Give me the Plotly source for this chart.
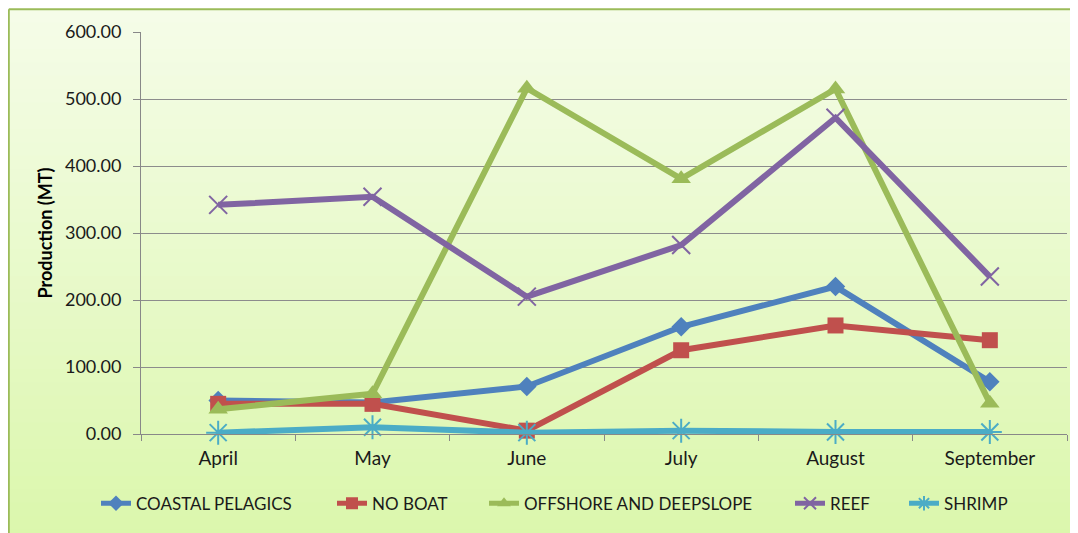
import plotly.graph_objects as go

months = ["April", "May", "June", "July", "August", "September"]
coastal_pelagics = [50, 47, 71, 160, 220, 78]
no_boat = [45, 45, 5, 125, 162, 140]
offshore_deepslope = [37, 60, 516, 381, 515, 46]
reef = [342, 354, 205, 282, 472, 235]
shrimp = [2, 10, 2, 5, 3, 3]
y_ticks = [0, 100, 200, 300, 400, 500, 600]

# page body has an 8px margin and the page is captured slightly squeezed vertically;
# all positions below are given in screenshot pixels and converted to figure pixels.
OFF = 8
W, H = 1078 - OFF, 533 - OFF
VS = (H + 2 * OFF) / 533.0
L, R, T, B = 141, 1067, 32, 436
FONT = "Lato"

def fx(px):
    return px - OFF

def fy(py):
    return py * VS - OFF

FL, FR, FT, FB = fx(L), fx(R), fy(T), fy(B)

def xp(px):
    return (fx(px) - FL) / (FR - FL)

def yp(py):
    return (FB - fy(py)) / (FB - FT)

series = [
    ("COASTAL PELAGICS", coastal_pelagics, "#4F81BD", dict(symbol="diamond", size=15), 136),
    ("NO BOAT", no_boat, "#C0504D", dict(symbol="square", size=16), 372),
    ("OFFSHORE AND DEEPSLOPE", offshore_deepslope, "#9BBB59", dict(symbol="triangle-up", size=17), 524),
    ("REEF", reef, "#8064A2", dict(symbol="x-thin-open", size=18, line=dict(width=2, color="#8064A2")), 830),
    ("SHRIMP", shrimp, "#4BACC6", dict(symbol="asterisk-open", size=20, line=dict(width=2, color="#4BACC6")), 944),
]

fig = go.Figure()
legends = {}
for i, (name, vals, color, mk, text_x) in enumerate(series):
    lname = "legend" if i == 0 else "legend%d" % (i + 1)
    m = dict(color=color, **mk)
    fig.add_trace(go.Scatter(
        x=months, y=vals, name=name, mode="lines+markers",
        line=dict(color=color, width=6), marker=m, cliponaxis=False,
        legend=lname,
    ))
    legends[lname] = dict(orientation="h", x=xp(text_x - 40), xanchor="left",
                          y=yp(506), yanchor="middle", bgcolor="rgba(0,0,0,0)",
                          font=dict(size=17, family=FONT, color="#1a1a1a"),
                          itemsizing="constant")

# gradient background strips
shapes = []
n = 40
top_c = (245, 252, 232)
bot_c = (219, 247, 172)
y_top, y_bot = 9, 545
for i in range(n):
    t = i / (n - 1)
    c = tuple(round(top_c[k] + (bot_c[k] - top_c[k]) * t) for k in range(3))
    py0 = y_top + (y_bot - y_top) * i / n
    py1 = y_top + (y_bot - y_top) * (i + 1) / n + 1
    shapes.append(dict(type="rect", xref="paper", yref="paper",
                       x0=xp(8), x1=xp(1090), y0=yp(py1), y1=yp(py0),
                       fillcolor="rgb(%d,%d,%d)" % c, line=dict(width=0), layer="below"))
# border
shapes.append(dict(type="line", xref="paper", yref="paper", x0=xp(8.8), x1=xp(1090),
                   y0=yp(9.2), y1=yp(9.2), line=dict(color="#9BBB59", width=2), layer="below"))
shapes.append(dict(type="line", xref="paper", yref="paper", x0=xp(8.8), x1=xp(8.8),
                   y0=yp(9.2), y1=yp(545), line=dict(color="#9BBB59", width=2), layer="below"))

fig.update_layout(
    width=W, height=H,
    margin=dict(l=FL, r=W - FR, t=FT, b=H - FB, pad=0),
    paper_bgcolor="white", plot_bgcolor="white",
    font=dict(family=FONT, size=17, color="#1a1a1a"),
    shapes=shapes,
    showlegend=True,
    xaxis=dict(type="category", tickson="boundaries", ticks="outside", ticklen=6,
               tickcolor="#888888", showline=True, linecolor="#888888", linewidth=1,
               showgrid=False, tickfont=dict(size=19, family=FONT, color="#1a1a1a"),
               ticklabelstandoff=7, range=[-0.5, 5.5]),
    yaxis=dict(range=[0, 600], tickmode="array", tickvals=y_ticks,
               tickformat=".2f", ticks="outside", ticklen=7, tickcolor="#888888",
               showline=True, linecolor="#888888", linewidth=1,
               showgrid=True, gridcolor="#8c8c8c", gridwidth=1, zeroline=False,
               tickfont=dict(size=18, family=FONT, color="#1a1a1a"),
               ticklabelstandoff=8,
               title=dict(text="<b>Production (MT)</b>", font=dict(size=18, family=FONT, color="#000"),
                          standoff=7)),
    **legends,
)

fig.write_html("out.html")
